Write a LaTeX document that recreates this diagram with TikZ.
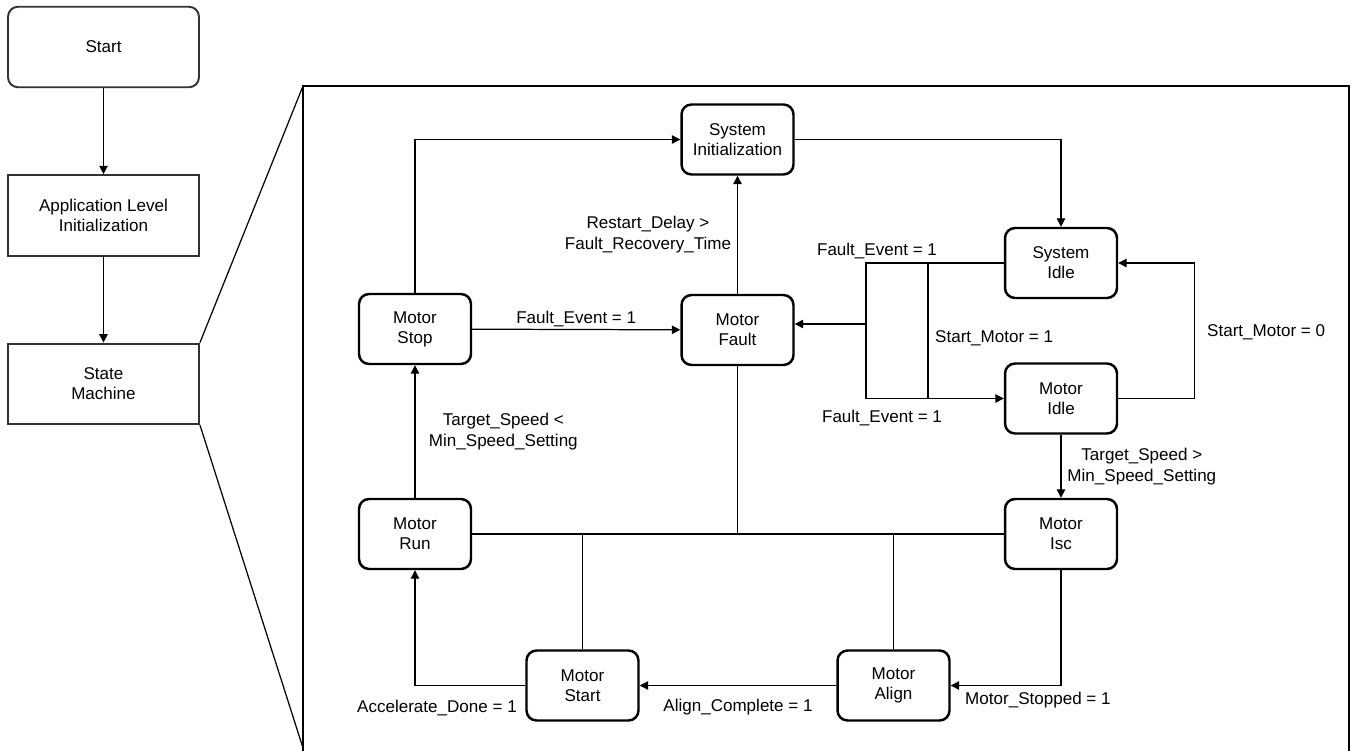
\documentclass[tikz,border=0pt]{standalone}
\usepackage{fontspec}
\setmainfont{Liberation Sans}
\usetikzlibrary{positioning,arrows.meta}
\tikzstyle{arrow} = [line width=0.7pt,-{Triangle[length=4.8pt,width=4.8pt]}]

\begin{document}
\begin{tikzpicture}[
        x=0.02cm, y=-0.02cm,
        node distance=1.72cm, % Spacing between left boxes
        state/.style={rectangle, rounded corners=0.2cm, draw, line width=1.4pt, minimum width=2.24cm, minimum height=1.4cm, align=center, font=\fontsize{9.7}{11.4}\selectfont}, % State style
        block/.style={rectangle, draw=black!80, line width=1.1pt, minimum width=3.82cm, minimum height=1.61cm, align=center, font=\fontsize{9.7}{11.4}\selectfont}, % Flow box style
        lbl/.style={align=center, font=\fontsize{9.7}{11.8}\selectfont}, % Transition labels
        line/.style={line width=0.7pt},
        frame/.style={line width=1.3pt}
    ]
        \useasboundingbox (0,0) rectangle (1351,750);

        % Left flow (downward)
        \node (start) [block, rounded corners=0.2cm] at (103.5,47) {Start};
        \node (appinit) [block, below=of start] {Application Level\\Initialization};
        \node (statem) [block, below=of appinit] {State\\Machine};

        \draw [arrow] (start) -- (appinit);
        \draw [arrow] (appinit) -- (statem);

        % Zoom frame
        \coordinate (ftop) at (303,86);
        \coordinate (fbot) at (303,748);
        \draw [frame] (303,751) -- (ftop) -- (1349,86) -- (1349,751);
        \draw [line] (statem.north east) -- (ftop);
        \draw [line] (statem.south east) -- (fbot);

        % States
        \node (sysinit) [state] at (737.5,139.5) {System\\Initialization};
        \node (motstop) [state] at (415,329) {Motor\\Stop};
        \node (motfault) [state] at (737.5,330) {Motor\\Fault};
        \node (sysidle) [state] at (1061,263) {System\\Idle};
        \node (motidle) [state] at (1061,398.5) {Motor\\Idle};
        \node (motrun) [state] at (415,534) {Motor\\Run};
        \node (motisc) [state] at (1061,534) {Motor\\Isc};
        \node (motstart) [state] at (582.5,685.5) {Motor\\Start};
        \node (motalign) [state] at (893.5,685.5) {Motor\\Align};

        % Top loop
        \draw [arrow] (motstop.north) |- (sysinit.west);
        \draw [arrow] (sysinit.east) -| (sysidle.north);
        \draw [arrow] (motfault) -- node[lbl, midway, left] {Restart\_Delay >\\Fault\_Recovery\_Time} (sysinit);
        \draw [arrow] (motstop) -- node[lbl, midway, above=-2pt] {Fault\_Event = 1} (motfault);

        % Idle states
        \coordinate (fltop) at (866,263);
        \coordinate (flbot) at (866,398.5);
        \coordinate (fltap) at (866,324);
        \coordinate (smtop) at (928,263);
        \coordinate (smbot) at (928,398.5);
        \draw [line] (sysidle.west) -- (fltop) -- (flbot);
        \draw [arrow] (flbot) -- (motidle.west);
        \draw [line] (smtop) -- (smbot);
        \draw [arrow] (fltap) -- (fltap -| motfault.east);
        \node [lbl] at (877,251) {Fault\_Event = 1};
        \node [lbl] at (882,418) {Fault\_Event = 1};
        \node [lbl, anchor=west] at (929,338) {Start\_Motor = 1};

        \draw [arrow] (motidle.east) -- ++(76,0) |- (sysidle.east);
        \node [lbl, anchor=west] at (1201,332) {Start\_Motor = 0};

        \draw [arrow] (motidle) -- node[lbl, midway, right] {Target\_Speed >\\Min\_Speed\_Setting} (motisc);
        \draw [arrow] (motrun) -- node[lbl, midway, right, xshift=0.15cm] {Target\_Speed <\\Min\_Speed\_Setting} (motstop);

        % Fault bus
        \draw [line] (motrun.east) -- (motisc.west);
        \draw [line] (motfault.south) -- (motfault.south |- motrun.east);
        \draw [line] (motstart.north) -- (motstart.north |- motrun.east);
        \draw [line] (motalign.north) -- (motalign.north |- motrun.east);

        % Bottom flow (leftward)
        \draw [arrow] (motisc.south) |- (motalign.east);
        \node [lbl, anchor=west] at (959,700) {Motor\_Stopped = 1};
        \draw [arrow] (motalign) -- node[lbl, midway, below=4pt] {Align\_Complete = 1} (motstart);
        \draw [arrow] (motstart.west) -| (motrun.south);
        \node [lbl, anchor=east] at (523,708) {Accelerate\_Done = 1};

    \end{tikzpicture}
\end{document}
